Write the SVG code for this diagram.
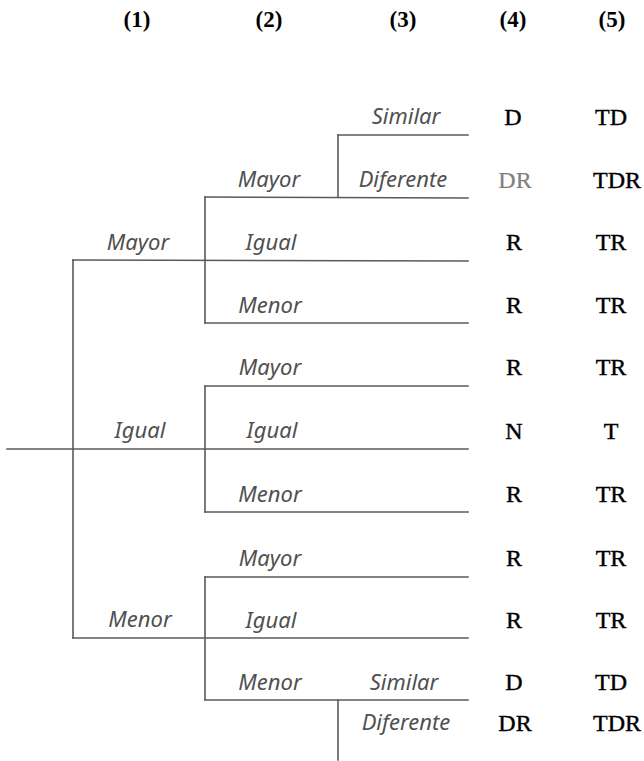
<svg xmlns="http://www.w3.org/2000/svg" width="644" height="761" viewBox="0 0 644 761">
<style>
.bg{fill:#ffffff}
.ln{stroke:#5a5a5a;stroke-width:1.6;fill:none;stroke-linecap:square}
.hd{font-family:"Liberation Serif",serif;font-weight:bold;font-size:23px;fill:#000;text-anchor:middle}
.it{font-family:"Noto Sans",sans-serif;font-style:italic;font-size:22px;fill:#505050;text-anchor:middle}
.c4{font-family:"Liberation Serif",serif;font-size:24px;fill:#000;text-anchor:middle;stroke:#000;stroke-width:0.4}
.gr{fill:#808080;stroke:#808080;stroke-width:0.2}
</style>
<rect class="bg" x="0" y="0" width="644" height="761"/>
<g id="headers">
<text class="hd" x="137" y="27">(1)</text>
<text class="hd" x="269" y="27">(2)</text>
<text class="hd" x="403" y="27">(3)</text>
<text class="hd" x="513" y="27">(4)</text>
<text class="hd" x="612" y="27">(5)</text>
</g>
<g id="connectors">
<line class="ln" x1="7" y1="449" x2="468" y2="449"/>
<line class="ln" x1="73" y1="260" x2="73" y2="638"/>
<line class="ln" x1="73" y1="260" x2="468" y2="261"/>
<line class="ln" x1="73" y1="638" x2="468" y2="638"/>
<line class="ln" x1="205" y1="197" x2="205" y2="323"/>
<line class="ln" x1="205" y1="197" x2="468" y2="198"/>
<line class="ln" x1="205" y1="323" x2="468" y2="323"/>
<line class="ln" x1="205" y1="386" x2="205" y2="512"/>
<line class="ln" x1="205" y1="386" x2="468" y2="386"/>
<line class="ln" x1="205" y1="512" x2="468" y2="512"/>
<line class="ln" x1="205" y1="577" x2="205" y2="700"/>
<line class="ln" x1="205" y1="577" x2="468" y2="577"/>
<line class="ln" x1="205" y1="700" x2="468" y2="700"/>
<line class="ln" x1="338" y1="135" x2="338" y2="197"/>
<line class="ln" x1="338" y1="135" x2="468" y2="135"/>
<line class="ln" x1="338" y1="700" x2="338" y2="760"/>
</g>
<g id="n1-mayor"><text class="it" x="138" y="250">Mayor</text></g>
<g id="n1-igual"><text class="it" x="140" y="438">Igual</text></g>
<g id="n1-menor"><text class="it" x="140" y="627">Menor</text></g>
<g id="n2-mayor-mayor"><text class="it" x="269" y="187">Mayor</text></g>
<g id="n2-mayor-igual"><text class="it" x="271" y="250">Igual</text></g>
<g id="n2-mayor-menor"><text class="it" x="270" y="313">Menor</text></g>
<g id="n2-igual-mayor"><text class="it" x="270" y="375">Mayor</text></g>
<g id="n2-igual-igual"><text class="it" x="272" y="438">Igual</text></g>
<g id="n2-igual-menor"><text class="it" x="270" y="502">Menor</text></g>
<g id="n2-menor-mayor"><text class="it" x="270" y="566">Mayor</text></g>
<g id="n2-menor-igual"><text class="it" x="271" y="628">Igual</text></g>
<g id="n2-menor-menor"><text class="it" x="270" y="690">Menor</text></g>
<g id="n3-top-similar"><text class="it" x="406" y="124">Similar</text></g>
<g id="n3-top-diferente"><text class="it" x="403" y="187">Diferente</text></g>
<g id="n3-bot-similar"><text class="it" x="404" y="690">Similar</text></g>
<g id="n3-bot-diferente"><text class="it" x="406" y="730">Diferente</text></g>
<g id="col4">
<text class="c4" x="513" y="125">D</text>
<text class="c4 gr" x="515" y="188">DR</text>
<text class="c4" x="514" y="250">R</text>
<text class="c4" x="514" y="313">R</text>
<text class="c4" x="514" y="375">R</text>
<text class="c4" x="514" y="439">N</text>
<text class="c4" x="514" y="502">R</text>
<text class="c4" x="514" y="566">R</text>
<text class="c4" x="514" y="628">R</text>
<text class="c4" x="514" y="690">D</text>
<text class="c4" x="515" y="731">DR</text>
</g>
<g id="col5">
<text class="c4" x="611" y="125">TD</text>
<text class="c4" x="617" y="188">TDR</text>
<text class="c4" x="611" y="250">TR</text>
<text class="c4" x="611" y="313">TR</text>
<text class="c4" x="611" y="375">TR</text>
<text class="c4" x="611" y="439">T</text>
<text class="c4" x="611" y="502">TR</text>
<text class="c4" x="611" y="566">TR</text>
<text class="c4" x="611" y="628">TR</text>
<text class="c4" x="611" y="690">TD</text>
<text class="c4" x="617" y="731">TDR</text>
</g>
</svg>
